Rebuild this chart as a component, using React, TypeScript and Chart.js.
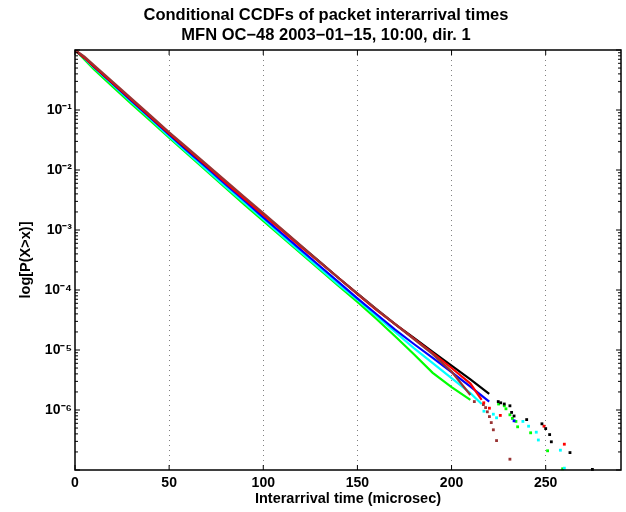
import React, { useEffect, useRef } from 'react';
import { Chart, registerables } from 'chart.js';

Chart.register(...registerables);

const FONT = "'Liberation Sans', Arial, Helvetica, sans-serif";

const titleLines = [
  'Conditional CCDFs of packet interarrival times',
  'MFN OC\u221248 2003\u221201\u221215, 10:00, dir. 1',
];
const xAxisTitle = 'Interarrival time (microsec)';
const yAxisTitle = 'log[P(X>x)]';

const xTickValues = [0, 50, 100, 150, 200, 250];
const yTickExponents = [-1, -2, -3, -4, -5, -6];

// Body of each conditional CCDF: x (microsec) and log10 P(X>x)
const xBody = [0, 5, 10, 20, 30, 40, 50, 60, 70, 80, 90, 100, 110, 120, 130, 140, 150, 160, 170, 180, 190, 200];

const blackBodyX = [...xBody, 210, 220];
const blackBody = [0, -0.13, -0.27, -0.55, -0.83, -1.11, -1.39, -1.66, -1.93, -2.2, -2.47, -2.74, -3.0, -3.27, -3.53, -3.8, -4.06, -4.32, -4.57, -4.8, -5.03, -5.26, -5.49, -5.73];
const redBodyX = [...xBody, 210, 216];
const redBody = [0, -0.13, -0.27, -0.55, -0.83, -1.11, -1.39, -1.66, -1.93, -2.21, -2.48, -2.75, -3.01, -3.28, -3.54, -3.8, -4.07, -4.33, -4.57, -4.81, -5.05, -5.3, -5.56, -5.83];
const brownBodyX = [...xBody, 210];
const brownBody = [0, -0.11, -0.25, -0.53, -0.81, -1.09, -1.37, -1.64, -1.91, -2.18, -2.45, -2.72, -2.99, -3.26, -3.53, -3.8, -4.06, -4.32, -4.57, -4.82, -5.07, -5.36, -5.75];
const blueBodyX = [...xBody, 210, 220];
const blueBody = [0, -0.13, -0.28, -0.56, -0.85, -1.13, -1.41, -1.69, -1.96, -2.24, -2.51, -2.79, -3.06, -3.33, -3.6, -3.87, -4.14, -4.4, -4.66, -4.9, -5.13, -5.37, -5.61, -5.86];
const cyanBodyX = [...xBody, 210, 216];
const cyanBody = [0, -0.14, -0.29, -0.58, -0.87, -1.15, -1.44, -1.72, -2.0, -2.28, -2.55, -2.82, -3.1, -3.37, -3.64, -3.91, -4.16, -4.43, -4.7, -4.97, -5.22, -5.47, -5.72, -5.9];
const greenBodyX = [...xBody, 210];
const greenBody = [0, -0.16, -0.32, -0.61, -0.9, -1.18, -1.46, -1.74, -2.02, -2.3, -2.58, -2.85, -3.12, -3.39, -3.66, -3.93, -4.2, -4.48, -4.77, -5.07, -5.38, -5.62, -5.83];

// Sparse tails (individual points)
const blackTailX = [224.8, 226.1, 228.0, 231.0, 231.9, 233.2, 239.9, 248.0, 250.0, 252.1, 253.0, 262.9, 274.8];
const blackTail = [-5.86, -5.88, -5.9, -5.93, -6.04, -6.1, -6.16, -6.23, -6.31, -6.41, -6.53, -6.71, -6.99];
const redTailX = [217.1, 220.1, 225.9, 249.1, 259.9];
const redTail = [-5.88, -5.97, -6.09, -6.27, -6.57];
const greenTailX = [225.0, 228.0, 228.9, 231.0, 232.3, 234.2, 235.1, 242.0, 251.0, 259.0];
const greenTail = [-5.9, -5.93, -5.98, -6.08, -6.14, -6.19, -6.28, -6.38, -6.68, -6.98];
const cyanTailX = [217.2, 222.2, 223.9, 237.9, 240.9, 245.0, 246.1, 257.8, 259.9];
const cyanTail = [-6.02, -6.07, -6.13, -6.19, -6.27, -6.37, -6.5, -6.67, -6.97];
const brownTailX = [212.1, 216.9, 218.1, 219.0, 220.1, 221.1, 222.2, 223.9, 231.0];
const brownTail = [-5.86, -5.91, -5.96, -6.03, -6.11, -6.21, -6.33, -6.51, -6.82];
const blueTailX = [233.2];
const blueTail = [-6.18];

const BLACK = '#000000';
const RED = '#ff0000';
const BROWN = '#993333';
const BLUE = '#0000ff';
const CYAN = '#00ffff';
const GREEN = '#00ff00';

const toPts = (xs: number[], ls: number[]) => xs.map((x, i) => ({ x, y: Math.pow(10, ls[i]) }));

const supMap: Record<string, string> = {
  '-': '\u207B', '0': '\u2070', '1': '\u00B9', '2': '\u00B2', '3': '\u00B3',
  '4': '\u2074', '5': '\u2075', '6': '\u2076', '7': '\u2077', '8': '\u2078', '9': '\u2079',
};
const sup = (n: number) => String(n).split('').map((c) => supMap[c] || c).join('');

const framePlugin = {
  id: 'frameTicks',
  afterDatasetsDraw(chart: any) {
    const { ctx, chartArea: a, scales } = chart;
    const xs = scales.x;
    const ys = scales.y;
    ctx.save();
    ctx.strokeStyle = '#000';
    ctx.lineWidth = 1;
    ctx.beginPath();
    for (const v of xTickValues) {
      const px = xs.getPixelForValue(v);
      ctx.moveTo(px, a.bottom);
      ctx.lineTo(px, a.bottom - 5);
      ctx.moveTo(px, a.top);
      ctx.lineTo(px, a.top + 5);
    }
    for (let e = -7; e <= 0; e++) {
      for (let m = 1; m <= 9; m++) {
        const v = m * Math.pow(10, e);
        if (v > 1.0000001) continue;
        const py = ys.getPixelForValue(v);
        const len = m === 1 ? 5 : 3;
        ctx.moveTo(a.left, py);
        ctx.lineTo(a.left + len, py);
        ctx.moveTo(a.right, py);
        ctx.lineTo(a.right - len, py);
      }
    }
    ctx.stroke();
    ctx.lineWidth = 1.5;
    ctx.strokeRect(a.left, a.top, a.right - a.left, a.bottom - a.top);
    ctx.restore();
  },
};

export default function App() {
  const ref = useRef<HTMLCanvasElement | null>(null);

  useEffect(() => {
    if (!ref.current) return;
    const line = (label: string, xs: number[], ls: number[], color: string, order: number) => ({
      label,
      data: toPts(xs, ls),
      showLine: true,
      borderColor: color,
      backgroundColor: color,
      borderWidth: 2.2,
      pointRadius: 0,
      tension: 0,
      order,
    });
    const tail = (label: string, xs: number[], ls: number[], color: string, order: number) => ({
      label,
      data: toPts(xs, ls),
      showLine: false,
      borderColor: color,
      backgroundColor: color,
      pointStyle: 'rect',
      pointRadius: 2,
      pointBorderWidth: 0,
      clip: false,
      order,
    });

    const chart = new Chart(ref.current, {
      type: 'scatter',
      data: {
        datasets: [
          tail('black tail', blackTailX, blackTail, BLACK, 0),
          tail('red tail', redTailX, redTail, RED, 1),
          tail('brown tail', brownTailX, brownTail, BROWN, 2),
          tail('blue tail', blueTailX, blueTail, BLUE, 3),
          tail('cyan tail', cyanTailX, cyanTail, CYAN, 4),
          tail('green tail', greenTailX, greenTail, GREEN, 5),
          line('brown', brownBodyX, brownBody, BROWN, 6),
          line('red', redBodyX, redBody, RED, 7),
          line('black', blackBodyX, blackBody, BLACK, 8),
          line('blue', blueBodyX, blueBody, BLUE, 9),
          line('cyan', cyanBodyX, cyanBody, CYAN, 10),
          line('green', greenBodyX, greenBody, GREEN, 11),
        ] as any,
      },
      options: {
        animation: false,
        responsive: false,
        devicePixelRatio: 1,
        layout: { padding: { left: 31, right: 5, top: 0, bottom: 0 } },
        plugins: {
          legend: { display: false },
          tooltip: { enabled: false },
          title: {
            display: true,
            fullSize: true,
            text: titleLines,
            color: '#000',
            font: { family: FONT, size: 16.5, weight: 'bold', lineHeight: 1.2 },
            padding: { top: 6, bottom: 4.4 },
          },
        },
        scales: {
          x: {
            type: 'linear',
            min: 0,
            max: 290,
            afterBuildTicks: (s: any) => {
              s.ticks = xTickValues.map((v) => ({ value: v }));
            },
            afterFit: (s: any) => {
              s.height = 42;
            },
            ticks: {
              color: '#000',
              font: { family: FONT, size: 14, weight: 'bold' },
              padding: 5,
              maxRotation: 0,
              autoSkip: false,
            },
            grid: {
              drawTicks: false,
              color: (c: any) => (c.tick && c.tick.value === 0 ? 'rgba(0,0,0,0)' : '#808080'),
              lineWidth: 1,
            },
            border: { display: false, dash: [1, 4] },
            title: {
              display: true,
              text: xAxisTitle,
              color: '#000',
              font: { family: FONT, size: 14.5, weight: 'bold' },
              padding: { top: 0, bottom: 4.5 },
            },
          },
          y: {
            type: 'logarithmic',
            min: 1e-7,
            max: 1,
            afterBuildTicks: (s: any) => {
              s.ticks = yTickExponents.map((e) => ({ value: Math.pow(10, e) }));
            },
            afterFit: (s: any) => {
              s.width = 44;
            },
            ticks: {
              color: '#000',
              font: { family: FONT, size: 14, weight: 'bold' },
              padding: 3,
              autoSkip: false,
              callback: (v: any) => '10' + sup(Math.round(Math.log10(Number(v)))),
            },
            grid: { display: false, drawTicks: false },
            border: { display: false },
            title: {
              display: true,
              text: yAxisTitle,
              color: '#000',
              font: { family: FONT, size: 14.5, weight: 'bold' },
              padding: { top: -13.5, bottom: 0 },
            },
          },
        },
      } as any,
      plugins: [framePlugin],
    });
    return () => chart.destroy();
  }, []);

  return (
    <div style={{ position: 'absolute', left: 0, top: 0, width: 626, height: 512, background: '#fff' }}>
      <canvas ref={ref} width={626} height={512} style={{ display: 'block' }} />
    </div>
  );
}
